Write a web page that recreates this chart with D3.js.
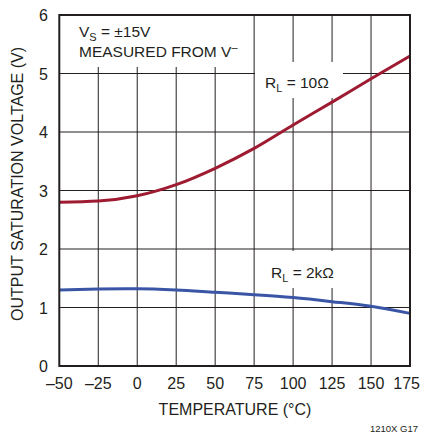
<!DOCTYPE html>
<html><head><meta charset="utf-8">
<script src="https://cdn.jsdelivr.net/npm/d3@7/dist/d3.min.js"></script>
<style>
body{margin:0;background:#fff;}
text{font-family:"Liberation Sans","Arial",sans-serif;fill:#231f20;}
</style></head>
<body><svg id="c" width="423" height="434"></svg>
<script>
const temps = [-50, -25, 0, 25, 50, 75, 100, 125, 150, 175];
const rl10 = [2.80, 2.82, 2.91, 3.10, 3.38, 3.72, 4.12, 4.51, 4.91, 5.30];
const rl2k = [1.30, 1.315, 1.32, 1.30, 1.26, 1.22, 1.17, 1.10, 1.02, 0.90];
const xTicks = [-50, -25, 0, 25, 50, 75, 100, 125, 150, 175];
const yTicks = [0, 1, 2, 3, 4, 5, 6];

const L = 59.3, R = 410, T = 15, B = 366;
const svg = d3.select("#c");
const x = d3.scaleLinear().domain([-50, 175]).range([L, R]);
const y = d3.scaleLinear().domain([0, 6]).range([B, T]);

// grid
const g = svg.append("g");
g.selectAll("line.v").data(xTicks.slice(1, -1)).join("line")
  .attr("x1", d => x(d)).attr("x2", d => x(d)).attr("y1", T).attr("y2", B)
  .attr("stroke", "#231f20").attr("stroke-width", 1);
g.selectAll("line.h").data(yTicks.slice(1, -1)).join("line")
  .attr("x1", L).attr("x2", R).attr("y1", d => y(d)).attr("y2", d => y(d))
  .attr("stroke", "#231f20").attr("stroke-width", 1);

// white label boxes
svg.append("rect").attr("x", L + 1).attr("y", T + 1).attr("width", 186).attr("height", 51).attr("fill", "#fff");
svg.append("rect").attr("x", 255).attr("y", 62).attr("width", 88).attr("height", 36).attr("fill", "#fff");
svg.append("rect").attr("x", 267).attr("y", 251).attr("width", 75).attr("height", 37).attr("fill", "#fff");

// curves
const line = d3.line().x((d, i) => x(temps[i])).y(d => y(d)).curve(d3.curveMonotoneX);
svg.append("path").datum(rl10).attr("d", line).attr("fill", "none")
  .attr("stroke", "#9e1b32").attr("stroke-width", 3);
svg.append("path").datum(rl2k).attr("d", line).attr("fill", "none")
  .attr("stroke", "#3a55a6").attr("stroke-width", 3);

// frame
svg.append("rect").attr("x", L).attr("y", T).attr("width", R - L).attr("height", B - T)
  .attr("fill", "none").attr("stroke", "#231f20").attr("stroke-width", 2);

// tick labels
svg.selectAll("text.xt").data(xTicks).join("text")
  .attr("x", d => d === 175 ? 420 : x(d)).attr("y", 389)
  .attr("text-anchor", d => d === 175 ? "end" : "middle")
  .attr("font-size", 16).text(d => d < 0 ? "\u2013" + Math.abs(d) : d);
svg.selectAll("text.yt").data(yTicks).join("text")
  .attr("x", 48).attr("y", d => y(d) + 6).attr("text-anchor", "end")
  .attr("font-size", 16).text(d => d);

// axis titles
svg.append("text").attr("x", 235).attr("y", 415).attr("text-anchor", "middle")
  .attr("font-size", 16).text("TEMPERATURE (\u00B0C)");
svg.append("text").attr("transform", "translate(23,184) rotate(-90)").attr("text-anchor", "middle")
  .attr("font-size", 16).text("OUTPUT SATURATION VOLTAGE (V)");
svg.append("text").attr("x", 418).attr("y", 432).attr("text-anchor", "end")
  .attr("font-size", 9.5).text("1210X G17");

// annotations
const t1 = svg.append("text").attr("x", 79).attr("y", 37).attr("font-size", 15.5);
t1.append("tspan").text("V");
t1.append("tspan").attr("font-size", 11).attr("dy", 4).text("S");
t1.append("tspan").attr("dy", -4).text("  = \u00B115V");
const t2 = svg.append("text").attr("x", 79).attr("y", 57).attr("font-size", 15.5);
t2.append("tspan").text("MEASURED FROM V");
t2.append("tspan").attr("font-size", 11).attr("dy", -6).text("\u2013");

const a1 = svg.append("text").attr("x", 265).attr("y", 88).attr("font-size", 15.5);
a1.append("tspan").text("R");
a1.append("tspan").attr("font-size", 11).attr("dy", 4).text("L");
a1.append("tspan").attr("dy", -4).text(" = 10\u03A9");
const a2 = svg.append("text").attr("x", 271).attr("y", 278).attr("font-size", 15.5);
a2.append("tspan").text("R");
a2.append("tspan").attr("font-size", 11).attr("dy", 4).text("L");
a2.append("tspan").attr("dy", -4).text(" = 2k\u03A9");
</script></body></html>
